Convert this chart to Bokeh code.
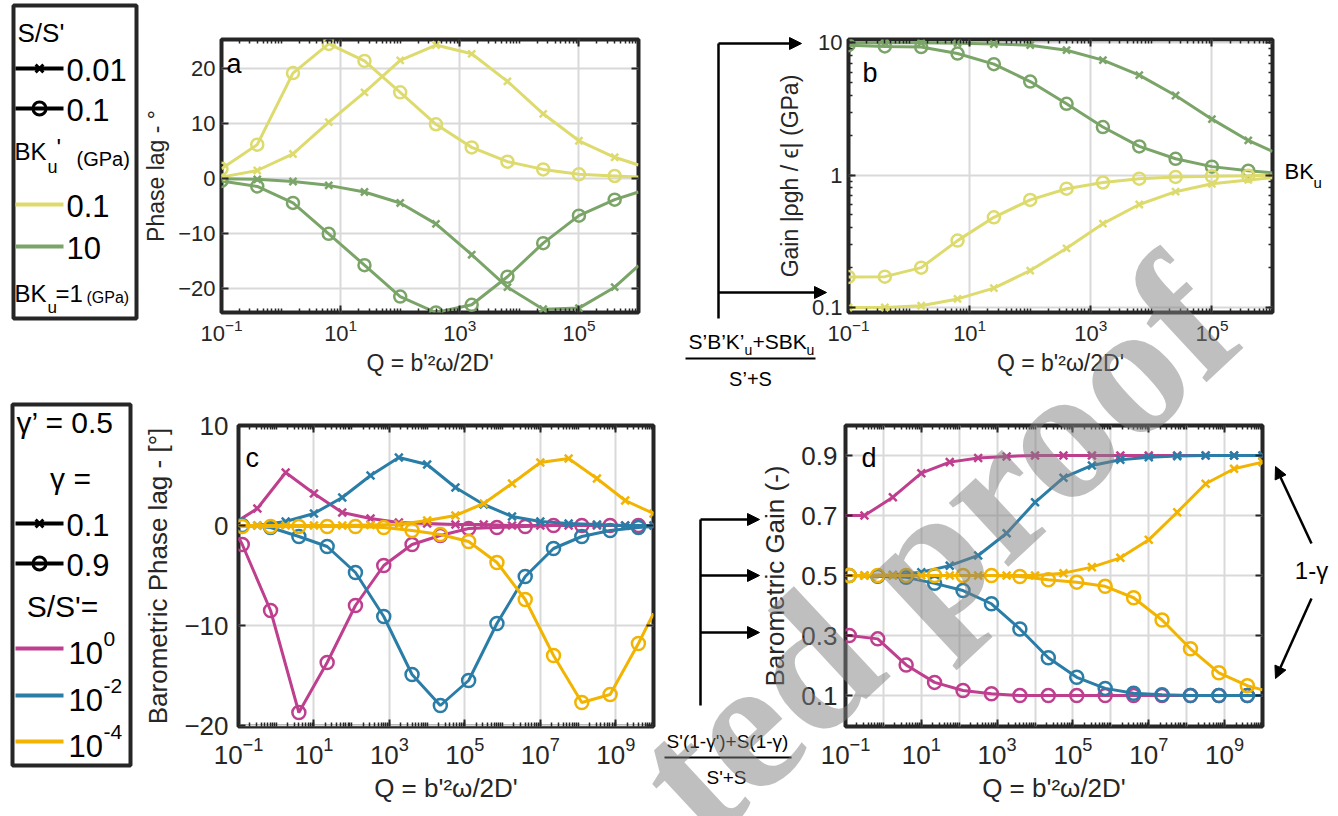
import numpy as np
from bokeh.plotting import figure
from bokeh.models import (Range1d, FixedTicker, LinearAxis, LogAxis, GridBox,
                          Arrow, NormalHead, NumeralTickFormatter)
from bokeh.core.properties import value
from bokeh.embed import file_html
from bokeh.resources import INLINE

FONT = "Liberation Sans"
INK = "#262626"
GRIDC = "#d9d9d9"
YEL = "#DDDB6D"
GRN = "#7BA468"
MAG = "#BF3F8F"
BLU = "#2A7DA6"
ORG = "#F2B400"

AB_LOGQ = [-1.0, -0.4, 0.2, 0.8, 1.4, 2.0, 2.6, 3.2, 3.8, 4.4, 5.0, 5.6, 6.0]
AB_MARK = list(range(12))

# panel a : phase lag (deg)
A_Y_S01 = [1.7, 6.1, 19.1, 24.4, 21.3, 15.6, 9.8, 5.6, 3.0, 1.6, 0.7, 0.4, 0.2]      # BK'=0.1, S/S'=0.1
A_Y_S001 = [0.2, 1.4, 4.4, 10.2, 15.6, 21.4, 24.2, 22.6, 17.6, 11.7, 6.8, 3.8, 2.4]  # BK'=0.1, S/S'=0.01
A_G_S01 = [-0.5, -1.5, -4.5, -10.1, -15.8, -21.5, -24.4, -23.0, -17.9, -11.8, -6.8, -3.9, -2.5]
A_G_S001 = [-0.1, -0.2, -0.6, -1.3, -2.5, -4.5, -8.3, -13.9, -19.8, -23.8, -23.6, -19.8, -15.9]

# panel b : gain (GPa)
B_G_S001 = [10.0, 10.0, 10.0, 9.95, 9.8, 9.6, 8.8, 7.4, 5.7, 4.0, 2.65, 1.83, 1.51]
B_G_S01 = [9.6, 9.4, 9.3, 8.3, 6.9, 5.1, 3.46, 2.31, 1.65, 1.33, 1.16, 1.08, 1.04]
B_Y_S01 = [0.17, 0.171, 0.20, 0.32, 0.48, 0.65, 0.79, 0.88, 0.94, 0.97, 0.98, 0.99, 1.0]
B_Y_S001 = [0.10, 0.10, 0.103, 0.116, 0.14, 0.19, 0.28, 0.43, 0.60, 0.75, 0.86, 0.92, 0.955]

CD_CIRC_LOGQ = [-1.0, -0.9, -0.15, 0.6, 1.35, 2.1, 2.85, 3.6, 4.35, 5.1, 5.85, 6.6,
                7.35, 8.1, 8.85, 9.6, 10.0]
CD_CROSS_LOGQ = [-1.0, -0.5, 0.25, 1.0, 1.75, 2.5, 3.25, 4.0, 4.75, 5.5, 6.25, 7.0,
                 7.75, 8.5, 9.25, 10.0]
CD_MARK = list(range(1, 16))

# panel c : barometric phase lag (deg)
C_M_G09 = [-1.2, -1.9, -8.5, -18.7, -13.7, -8.0, -4.0, -1.9, -1.0, -0.3, -0.2, -0.1, 0, 0, 0, 0, 0]
C_M_G01 = [0.5, 1.7, 5.3, 3.2, 1.3, 0.7, 0.3, 0.2, 0.1, 0.1, 0, 0, 0, 0, 0, 0]
C_B_G09 = [0, 0, -0.2, -1.1, -2.1, -4.7, -9.1, -14.9, -18.0, -15.5, -9.8, -5.1, -2.3, -1.1, -0.5, -0.2, -0.1]
C_B_G01 = [0, 0, 0.4, 1.2, 2.8, 5.0, 6.8, 6.1, 3.8, 2.1, 0.9, 0.4, 0.2, 0.1, 0, 0]
C_O_G09 = [0, -0.1, -0.1, -0.1, -0.1, -0.1, -0.2, -0.5, -0.9, -1.6, -3.7, -7.4, -13.0, -17.7, -16.9, -11.8, -8.8]
C_O_G01 = [0, 0, 0, 0, 0, 0.05, 0.1, 0.5, 1.0, 2.2, 4.2, 6.3, 6.7, 4.7, 2.5, 1.2]

# panel d : barometric gain (-)
D_M_G09 = [0.30, 0.30, 0.289, 0.202, 0.144, 0.117, 0.106, 0.10, 0.10, 0.10, 0.10, 0.10, 0.10, 0.10, 0.10, 0.10, 0.10]
D_M_G01 = [0.70, 0.70, 0.761, 0.841, 0.878, 0.892, 0.897, 0.9, 0.9, 0.9, 0.9, 0.9, 0.9, 0.9, 0.9, 0.9]
D_B_G09 = [0.50, 0.50, 0.498, 0.494, 0.474, 0.45, 0.406, 0.322, 0.226, 0.161, 0.124, 0.108, 0.103, 0.10, 0.10, 0.10, 0.10]
D_B_G01 = [0.5, 0.5, 0.502, 0.511, 0.533, 0.567, 0.641, 0.744, 0.826, 0.867, 0.886, 0.894, 0.898, 0.9, 0.9, 0.9]
D_O_G09 = [0.5, 0.5, 0.5, 0.5, 0.5, 0.5, 0.5, 0.497, 0.486, 0.478, 0.464, 0.426, 0.352, 0.256, 0.176, 0.133, 0.119]
D_O_G01 = [0.5, 0.5, 0.5, 0.5, 0.5, 0.5, 0.5, 0.5, 0.508, 0.528, 0.559, 0.619, 0.711, 0.806, 0.856, 0.878]

X_MAJOR_AB = [1e-1, 1e1, 1e3, 1e5]
X_MAJOR_CD = [1e-1, 1e1, 1e3, 1e5, 1e7, 1e9]
Y_TICKS_A = [-20, -10, 0, 10, 20]
Y_TICKS_B = [0.1, 1, 10]
Y_TICKS_C = [-20, -10, 0, 10]
Y_TICKS_D = [0.1, 0.3, 0.5, 0.7, 0.9]
XLAB = "Q = b'\u00b2\u03c9/2D'"


def log_minor(lo, hi):
    out = []
    for n in range(int(np.floor(np.log10(lo))), int(np.ceil(np.log10(hi))) + 1):
        for k in range(1, 10):
            v = k * 10.0 ** n
            if lo <= v <= hi:
                out.append(v)
    return out


def panel(w, h, bl, br, bt, bb, xr, yr, ylog, xmaj, ymaj, ylab, tfs, lfs,
          tstand_x, tstand_y, lstand_x, lstand_y, xgrid_ticks=None):
    p = figure(width=w, height=h, x_axis_type="log",
               y_axis_type=("log" if ylog else "linear"),
               x_range=Range1d(*xr), y_range=Range1d(*yr),
               output_backend="svg", toolbar_location=None,
               min_border_left=bl, min_border_right=br,
               min_border_top=bt, min_border_bottom=bb, frame_align=False)
    p.background_fill_color = "white"
    p.border_fill_color = "white"
    p.outline_line_color = INK
    p.outline_line_width = 4
    xt = FixedTicker(ticks=xmaj, minor_ticks=log_minor(*xr))
    yt = FixedTicker(ticks=ymaj, minor_ticks=(log_minor(*yr) if ylog else []))
    top = LogAxis()
    right = LogAxis() if ylog else LinearAxis()
    p.add_layout(top, "above")
    p.add_layout(right, "right")
    p.xaxis.ticker = xt
    p.yaxis.ticker = yt
    for ax in p.axis:
        ax.axis_line_color = None
        ax.major_tick_in = 7
        ax.major_tick_out = 0
        ax.minor_tick_in = 4
        ax.minor_tick_out = 0
        ax.major_tick_line_color = INK
        ax.minor_tick_line_color = INK
        ax.major_tick_line_width = 2
        ax.minor_tick_line_width = 1.5
        ax.major_label_text_font = FONT
        ax.major_label_text_font_size = f"{tfs}px"
        ax.major_label_text_color = INK
        ax.axis_label_text_font = FONT
        ax.axis_label_text_font_size = f"{lfs}px"
        ax.axis_label_text_font_style = "normal"
        ax.axis_label_text_color = INK
    for ax in (top, right):
        ax.major_label_text_font_size = "1px"
        ax.major_label_text_alpha = 0
        ax.major_label_standoff = 0
    if not ylog:
        right.minor_tick_in = 0
    p.below[0].axis_label = XLAB
    p.below[0].major_label_standoff = tstand_x
    p.below[0].axis_label_standoff = lstand_x
    p.left[0].axis_label = ylab
    p.left[0].major_label_standoff = tstand_y
    p.left[0].axis_label_standoff = lstand_y
    if not ylog:
        p.left[0].minor_tick_in = 0
    p.xgrid.ticker = FixedTicker(ticks=(xgrid_ticks if xgrid_ticks else xmaj))
    p.ygrid.ticker = FixedTicker(ticks=ymaj)
    p.grid.grid_line_color = GRIDC
    p.grid.grid_line_width = 2
    p.grid.level = "underlay"
    return p


def series(p, logq, vals, color, marker, idx, msize):
    q = [10.0 ** v for v in logq]
    p.line(q, vals, line_color=color, line_width=3)
    mq = [q[i] for i in idx]
    mv = [vals[i] for i in idx]
    if marker == "o":
        p.scatter(mq, mv, marker="circle", size=msize, fill_color=None,
                  line_color=color, line_width=2.5)
    else:
        p.scatter(mq, mv, marker="x", size=msize - 2, line_color=color, line_width=2.5)


# ---------------- panel a ----------------
fa = panel(520, 408, 74, 22, 39, 96, (0.1, 1e6), (-24.4, 25.2), False, X_MAJOR_AB,
           Y_TICKS_A, "Phase lag - \u00b0", 22, 23, 6, 6, 6, 6)
series(fa, AB_LOGQ, A_G_S001, GRN, "x", AB_MARK, 12)
series(fa, AB_LOGQ, A_G_S01, GRN, "o", AB_MARK, 12)
series(fa, AB_LOGQ, A_Y_S001, YEL, "x", AB_MARK, 12)
series(fa, AB_LOGQ, A_Y_S01, YEL, "o", AB_MARK, 12)

# ---------------- panel b ----------------
fb = panel(678, 408, 188, 66, 39, 96, (0.1, 1e6), (0.0916, 10.6), True, X_MAJOR_AB,
           Y_TICKS_B, "Gain |\u03c1gh / \u03f5| (GPa)", 22, 23, 6, 6, 6, 6)
fb.left[0].formatter = NumeralTickFormatter(format="0.[0]")
series(fb, AB_LOGQ, B_G_S001, GRN, "x", AB_MARK, 12)
series(fb, AB_LOGQ, B_G_S01, GRN, "o", AB_MARK, 12)
series(fb, AB_LOGQ, B_Y_S001, YEL, "x", AB_MARK, 12)
series(fb, AB_LOGQ, B_Y_S01, YEL, "o", AB_MARK, 12)

# ---------------- panel c ----------------
fc = panel(520, 408, 95, 7, 17, 90, (0.1, 1e10), (-20.1, 10.0), False, X_MAJOR_CD,
           Y_TICKS_C, "Barometric Phase lag - [\u00b0]", 26, 26, 10, 10, 6, 8)
series(fc, CD_CIRC_LOGQ, C_M_G09, MAG, "o", CD_MARK, 13)
series(fc, CD_CROSS_LOGQ, C_M_G01, MAG, "x", CD_MARK, 13)
series(fc, CD_CIRC_LOGQ, C_B_G09, BLU, "o", CD_MARK, 13)
series(fc, CD_CROSS_LOGQ, C_B_G01, BLU, "x", CD_MARK, 13)
series(fc, CD_CIRC_LOGQ, C_O_G09, ORG, "o", CD_MARK, 13)
series(fc, CD_CROSS_LOGQ, C_O_G01, ORG, "x", CD_MARK, 13)

# ---------------- panel d ----------------
fd = panel(678, 408, 185, 76, 17, 90, (0.1, 1e10), (-0.003, 1.0), False, X_MAJOR_CD,
           Y_TICKS_D, "Barometric Gain (-)", 26, 26, 10, 8, 6, 8,
           xgrid_ticks=[10.0 ** n for n in range(-1, 11)])
series(fd, CD_CIRC_LOGQ, D_M_G09, MAG, "o", CD_MARK, 13)
series(fd, CD_CROSS_LOGQ, D_M_G01, MAG, "x", CD_MARK, 13)
series(fd, CD_CIRC_LOGQ, D_B_G09, BLU, "o", CD_MARK, 13)
series(fd, CD_CROSS_LOGQ, D_B_G01, BLU, "x", CD_MARK, 13)
series(fd, CD_CIRC_LOGQ, D_O_G09, ORG, "o", CD_MARK, 13)
series(fd, CD_CROSS_LOGQ, D_O_G01, ORG, "x", CD_MARK, 13)

# ---------------- overlay (page coordinates) ----------------
ov = figure(width=1338, height=816, x_range=Range1d(0, 1338), y_range=Range1d(816, 0),
            output_backend="svg", toolbar_location=None, min_border=0,
            x_axis_location=None, y_axis_location=None, frame_align=False)
ov.grid.visible = False
ov.background_fill_color = None
ov.border_fill_color = None
ov.outline_line_color = None


def txt(x, y, s, size, align="left", base="middle", color="black", font=FONT,
        style="normal", angle=0.0, alpha=1.0):
    ov.text(x=[x], y=[y], text=[s], text_font=value(font), text_font_size=f"{size}px",
            text_align=align, text_baseline=base, text_color=color,
            text_font_style=style, angle=angle, text_alpha=alpha)


def leg_line(y, color, marker=None):
    ov.line([15, 63], [y, y], line_color=color, line_width=4)
    if marker == "x":
        ov.scatter([39], [y], marker="x", size=11, line_color=color, line_width=3)
    elif marker == "o":
        ov.scatter([39], [y], marker="circle", size=13, fill_color=None,
                   line_color=color, line_width=3)


def arrow(x0, y0, x1, y1):
    ov.add_layout(Arrow(end=NormalHead(size=12, fill_color="black", line_color="black"),
                        x_start=x0, y_start=y0, x_end=x1, y_end=y1,
                        line_color="black", line_width=2.5))


# top legend
ov.quad(left=[13], right=[136], top=[5], bottom=[318], fill_color=None,
        line_color=INK, line_width=4)
txt(17, 32, "S/S'", 26)
leg_line(68, "black", "x")
txt(66, 69, "0.01", 31)
leg_line(108, "black", "o")
txt(66, 109, "0.1", 31)
txt(14, 151, "BK", 24)
txt(47, 166, "u", 18)
txt(56, 147, "'", 24)
txt(76, 158, "(GPa)", 20)
leg_line(204, YEL)
txt(66, 205, "0.1", 31)
leg_line(246, GRN)
txt(66, 247, "10", 31)
txt(14, 293, "BK", 24)
txt(47, 307, "u", 17)
txt(55, 293, "=1", 24)
txt(86, 297, "(GPa)", 16)

# bottom legend
ov.quad(left=[12], right=[130], top=[404], bottom=[765], fill_color=None,
        line_color=INK, line_width=4)
txt(16, 422, "\u03b3\u2019 = 0.5", 30)
txt(70, 478, "\u03b3 =", 30, align="center")
leg_line(523, "black", "x")
txt(66, 524, "0.1", 31)
leg_line(563, "black", "o")
txt(66, 564, "0.9", 31)
txt(62, 606, "S/S'=", 30, align="center")
for yy, col, ex in ((648, MAG, "0"), (695, BLU, "-2"), (741, ORG, "-4")):
    leg_line(yy, col)
    txt(68, yy + 4, "10", 31)
    txt(103, yy - 10, ex, 21)

# panel letters
txt(226, 63, "a", 27, base="alphabetic")
txt(862, 72, "b", 27, base="alphabetic")
txt(245, 457, "c", 27, base="alphabetic")
txt(861, 457, "d", 27, base="alphabetic")

# BK_u on the right of b
txt(1284, 171, "BK", 22)
txt(1313, 182, "u", 15)

# top middle bracket and formula
ov.line([718, 718], [43, 318], line_color="black", line_width=2.5)
arrow(718, 43, 801, 43)
arrow(718, 292, 826, 292)
txt(688, 341, "S\u2019B\u2019K\u2019", 21)
txt(744, 349, "u", 14)
txt(752, 341, "+SBK", 21)
txt(806, 349, "u", 14)
ov.line([685, 815], [358, 358], line_color="black", line_width=2)
txt(750, 378, "S\u2019+S", 20, align="center")

# bottom middle bracket and formula
ov.line([700, 700], [519, 705], line_color="black", line_width=2.5)
arrow(700, 519, 759, 519)
arrow(700, 575, 759, 575)
arrow(700, 632, 759, 632)
txt(727, 741, "S'(1-\u03b3')+S(1-\u03b3)", 19, align="center")
ov.line([664, 791], [757, 757], line_color="black", line_width=2)
txt(726, 777, "S'+S", 19, align="center")

# 1 - gamma annotation on d
txt(1311, 570, "1-\u03b3", 24, align="center")
arrow(1311, 543, 1275, 466)
arrow(1311, 598, 1275, 678)

# watermark
txt(663, 800, "ted proof", 190, base="alphabetic", color="#808080",
    font="Liberation Serif", style="bold", angle=0.75, alpha=0.5)

grid = GridBox(children=[(fa, 0, 1), (fb, 0, 2), (fc, 1, 1), (fd, 1, 2), (ov, 0, 0, 2, 3)],
               rows=["408px", "408px"], cols=["140px", "520px", "678px"], spacing=0)

open("out.html", "w").write(file_html(grid, INLINE))
